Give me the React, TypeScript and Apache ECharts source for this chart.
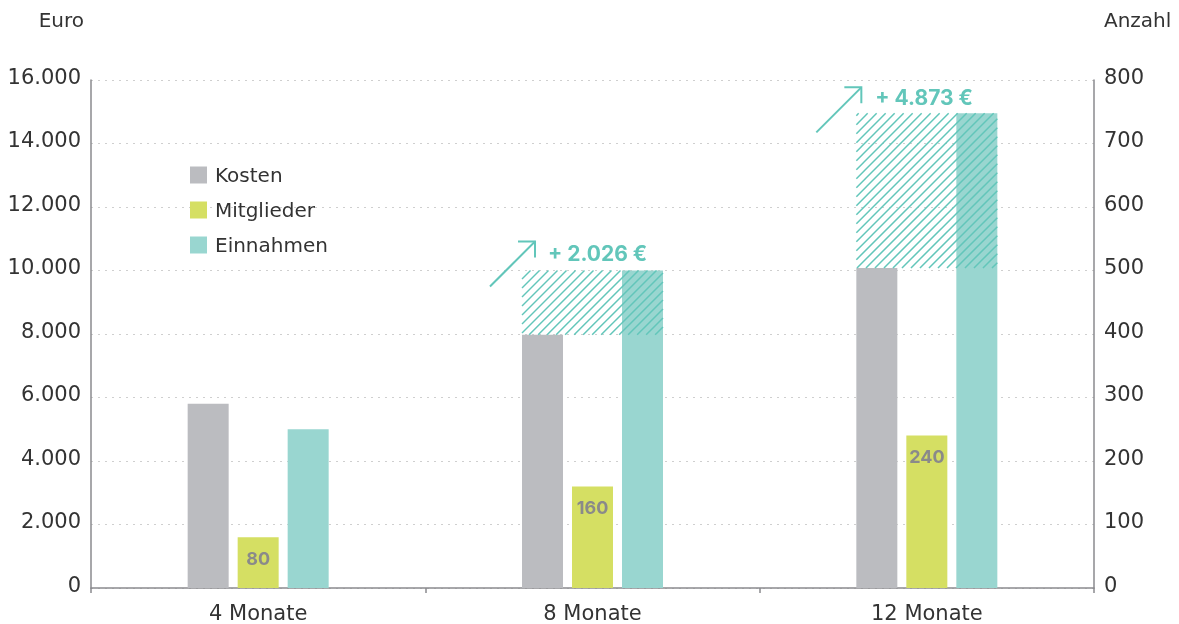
import React, { useEffect, useRef } from "react";
import * as echarts from "echarts";

const categories = ["4 Monate", "8 Monate", "12 Monate"];
const kosten = [5800, 7974, 10077];
const mitglieder = [80, 160, 240];
const einnahmen = [5000, 10000, 14950];
const euroTicks = [0, 2000, 4000, 6000, 8000, 10000, 12000, 14000, 16000];
const anzahlTicks = [0, 100, 200, 300, 400, 500, 600, 700, 800];
const gainCategories = [1, 2];

const FONT = "'DejaVu Sans', sans-serif";
const BOLD_FONT = "Inter, 'Noto Sans', sans-serif";
const TEAL = "#62c6ba";
const BAR_W = 41;
const BAR_GAP = 9;
const ARROW_OFFSETS = [
  [13, -29, 13, 12],
  [5, -26, 14, 10],
];

const fmt = (v: number) =>
  String(Math.round(v)).replace(/\B(?=(\d{3})+(?!\d))/g, ".");

export default function App() {
  const ref = useRef<HTMLDivElement>(null);
  useEffect(() => {
    if (!ref.current) return;
    const chart = echarts.init(ref.current, undefined, { renderer: "svg" });
    const gainData = gainCategories.map((i) => [i, kosten[i], einnahmen[i]]);
    const groupW = BAR_W * 3 + BAR_GAP * 2;

    chart.setOption({
      animation: false,
      textStyle: { fontFamily: FONT },
      grid: { left: 91, right: 85, top: 80, bottom: 36 },
      legend: {
        orient: "vertical",
        left: 185,
        top: 160,
        itemWidth: 17,
        itemHeight: 17,
        itemGap: 15,
        icon: "rect",
        textStyle: { fontSize: 20, color: "#333", fontFamily: FONT, padding: [0, 0, 0, 3] },
        data: ["Kosten", "Mitglieder", "Einnahmen"],
      },
      xAxis: {
        type: "category",
        data: categories,
        axisLine: { lineStyle: { color: "#8a8a8e", width: 1.5 } },
        axisTick: { show: true, length: 5, lineStyle: { color: "#8a8a8e", width: 1.5 } },
        axisLabel: { fontSize: 21, color: "#333", margin: 14, fontFamily: FONT },
      },
      yAxis: [
        {
          type: "value",
          min: euroTicks[0],
          max: euroTicks[euroTicks.length - 1],
          interval: euroTicks[1] - euroTicks[0],
          name: "Euro",
          nameLocation: "end",
          nameGap: 50,
          nameTextStyle: { fontSize: 20, color: "#333", align: "right", padding: [0, 7, 0, 0], fontFamily: FONT },
          axisLine: { show: true, lineStyle: { color: "#8a8a8e", width: 1.5 } },
          axisTick: { show: false },
          axisLabel: {
            fontSize: 21,
            color: "#333",
            margin: 10,
            verticalAlign: "bottom",
            lineHeight: 7,
            formatter: (v: number) => fmt(v),
            fontFamily: FONT,
          },
          splitLine: { lineStyle: { color: "#cfcfcf", type: [2, 5], width: 1 } },
        },
        {
          type: "value",
          min: anzahlTicks[0],
          max: anzahlTicks[anzahlTicks.length - 1],
          interval: anzahlTicks[1] - anzahlTicks[0],
          name: "Anzahl",
          nameLocation: "end",
          nameGap: 50,
          nameTextStyle: { fontSize: 20, color: "#333", align: "left", padding: [0, 0, 0, 10], fontFamily: FONT },
          axisLine: { show: true, lineStyle: { color: "#8a8a8e", width: 1.5 } },
          axisTick: { show: false },
          axisLabel: {
            fontSize: 21,
            color: "#333",
            margin: 10,
            verticalAlign: "bottom",
            lineHeight: 7,
            fontFamily: FONT,
          },
          splitLine: { show: false },
        },
      ],
      series: [
        {
          name: "Kosten",
          type: "bar",
          yAxisIndex: 0,
          data: kosten,
          barWidth: BAR_W,
          barGap: (BAR_GAP / BAR_W) * 100 + "%",
          itemStyle: { color: "#bbbcc0" },
        },
        {
          name: "Mitglieder",
          type: "bar",
          yAxisIndex: 1,
          data: mitglieder,
          barWidth: BAR_W,
          barGap: (BAR_GAP / BAR_W) * 100 + "%",
          itemStyle: { color: "#d5df63" },
          label: {
            show: true,
            position: "insideTop",
            distance: 12,
            fontSize: 18,
            fontWeight: "bold",
            color: "#8a8a8a",
            fontFamily: BOLD_FONT,
          },
        },
        {
          name: "Einnahmen",
          type: "bar",
          yAxisIndex: 0,
          data: einnahmen,
          barWidth: BAR_W,
          barGap: (BAR_GAP / BAR_W) * 100 + "%",
          itemStyle: { color: "#99d6d0" },
        },
        {
          name: "gain",
          type: "custom",
          yAxisIndex: 0,
          z: 5,
          clip: false,
          data: gainData,
          renderItem: (params: any, api: any) => {
            const ci = api.value(0);
            const lo = api.coord([ci, api.value(1)]);
            const hi = api.coord([ci, api.value(2)]);
            const x0 = lo[0] - groupW / 2;
            const x1 = lo[0] + groupW / 2;
            const y0 = hi[1];
            const y1 = lo[1];
            const children: any[] = [];
            const step = 9;
            const cStart = Math.ceil((x0 + y0) / step) * step;
            for (let c = cStart; c <= x1 + y1; c += step) {
              const xs = Math.max(x0, c - y1);
              const xe = Math.min(x1, c - y0);
              if (xe - xs < 0.5) continue;
              children.push({
                type: "line",
                shape: { x1: xs, y1: c - xs, x2: xe, y2: c - xe },
                style: { stroke: TEAL, lineWidth: 1.5 },
              });
            }
            const off = ARROW_OFFSETS[params.dataIndex];
            const tx = x0 + off[0];
            const ty = y0 + off[1];
            children.push({
              type: "line",
              shape: { x1: tx - 45, y1: ty + 45, x2: tx, y2: ty },
              style: { stroke: TEAL, lineWidth: 2 },
            });
            children.push({
              type: "polyline",
              shape: { points: [[tx - 17, ty], [tx, ty], [tx, ty + 16]] },
              style: { stroke: TEAL, lineWidth: 2, fill: null },
            });
            children.push({
              type: "text",
              x: tx + off[2],
              y: ty + off[3],
              style: {
                text: "+ " + fmt(api.value(2) - api.value(1)) + " €",
                fill: TEAL,
                font: "bold 21px " + BOLD_FONT,
                textAlign: "left",
                textVerticalAlign: "middle",
              },
            });
            return { type: "group", children };
          },
        },
      ],
    });
    return () => chart.dispose();
  }, []);
  return (
    <div
      ref={ref}
      style={{ position: "fixed", left: 0, top: 0, width: 1179, height: 624 }}
    />
  );
}
